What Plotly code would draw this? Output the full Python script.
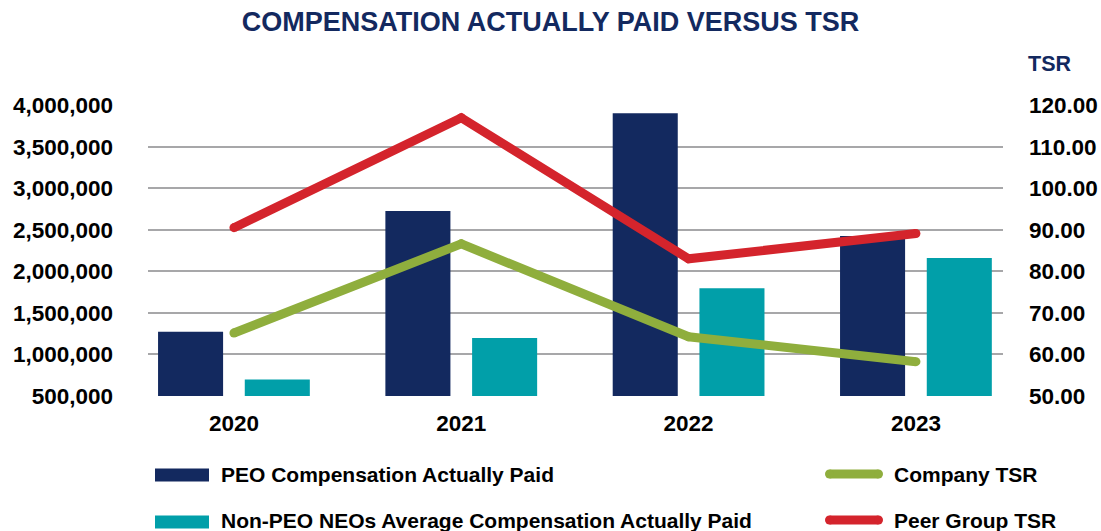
import plotly.graph_objects as go

years = ["2020", "2021", "2022", "2023"]
peo_cap = [1270000, 2725000, 3905000, 2425000]
non_peo_cap = [695000, 1195000, 1795000, 2160000]
company_tsr = [65.1, 86.6, 64.2, 58.2]
peer_tsr = [90.5, 117.0, 83.0, 89.1]

series_names = ["PEO Compensation Actually Paid",
                "Non-PEO NEOs Average Compensation Actually Paid",
                "Company TSR", "Peer Group TSR"]
title_text = "COMPENSATION ACTUALLY PAID VERSUS TSR"

NAVY = "#13295f"
TEAL = "#019fa9"
GREEN = "#8fae3d"
RED = "#d4242c"
GRID = "#a7a7a9"
FONT = "Liberation Sans, Arial, sans-serif"

W, H = 1101, 531
L, R, T, B = 148, 1003, 105, 396


def px(x):
    return (x - L) / (R - L)


def py(y):
    return (B - y) / (B - T)


fig = go.Figure()
fig.add_trace(go.Bar(x=years, y=peo_cap, name=series_names[0],
                     marker=dict(color=NAVY, line=dict(width=0)), showlegend=False))
fig.add_trace(go.Bar(x=years, y=non_peo_cap, name=series_names[1],
                     marker=dict(color=TEAL, line=dict(width=0)), showlegend=False))
fig.add_trace(go.Scatter(x=years, y=company_tsr, name=series_names[2], yaxis="y2",
                         mode="lines+markers", line=dict(color=GREEN, width=9),
                         marker=dict(color=GREEN, size=9, line=dict(width=0)),
                         showlegend=False))
fig.add_trace(go.Scatter(x=years, y=peer_tsr, name=series_names[3], yaxis="y2",
                         mode="lines+markers", line=dict(color=RED, width=9),
                         marker=dict(color=RED, size=9, line=dict(width=0)),
                         showlegend=False))

EPS1 = 4000
EPS2 = EPS1 / 3500000 * 70

fig.update_layout(
    width=W, height=H,
    margin=dict(l=L, r=W - R, t=T, b=H - B, pad=0, autoexpand=False),
    plot_bgcolor="white", paper_bgcolor="white",
    barmode="group", bargap=0.237, bargroupgap=0.25,
    font=dict(family=FONT, color="black"),
    title=dict(text=title_text, x=0.5, xref="container", xanchor="center",
               y=1 - 22 / H, yref="container", yanchor="middle", automargin=False,
               font=dict(family=FONT, size=27, color=NAVY, weight="bold")),
    xaxis=dict(type="category", range=[-0.378, 3.383], showgrid=False,
               showline=False, zeroline=False, ticks="", ticklabelstandoff=11,
               automargin=False,
               tickfont=dict(size=22.5, color="black", weight="bold")),
    yaxis=dict(range=[500000 - EPS1, 4000000 + EPS1], dtick=500000, tick0=500000,
               tickformat=",d", showgrid=True, gridcolor=GRID, gridwidth=2,
               zeroline=False, showline=False, ticks="", ticklabelstandoff=34,
               automargin=False,
               tickfont=dict(size=22.5, color="black", weight="bold")),
    yaxis2=dict(range=[50 - EPS2, 120 + EPS2], dtick=10, tick0=50, tickformat=".2f",
                overlaying="y", side="right", showgrid=False, zeroline=False,
                showline=False, ticks="", ticklabelstandoff=25, automargin=False,
                tickfont=dict(size=22.5, color="black", weight="bold")),
)

# TSR axis label
fig.add_annotation(text="TSR", xref="paper", yref="paper", x=px(1026), y=py(63.5),
                   xanchor="left", yanchor="middle", showarrow=False,
                   font=dict(family=FONT, size=21.5, color=NAVY, weight="bold"))

# custom legend
legend_items = [
    (series_names[0], NAVY, "bar", 155, 475, 474),
    (series_names[1], TEAL, "bar", 155, 522, 520),
    (series_names[2], GREEN, "line", 825, 474, 474),
    (series_names[3], RED, "line", 825, 520, 520),
]
for name, col, kind, x0, yc, ty in legend_items:
    if kind == "bar":
        fig.add_shape(type="rect", xref="paper", yref="paper",
                      x0=px(x0), x1=px(x0 + 54), y0=py(yc - 6.5), y1=py(yc + 6.5),
                      fillcolor=col, line=dict(width=0))
        tx = x0 + 64
    else:
        fig.add_shape(type="line", xref="paper", yref="paper",
                      x0=px(x0 + 4.5), x1=px(x0 + 53.5), y0=py(yc), y1=py(yc),
                      line=dict(color=col, width=9))
        for cx in (x0 + 4.5, x0 + 53.5):
            fig.add_shape(type="circle", xref="paper", yref="paper",
                          x0=px(cx - 4.5), x1=px(cx + 4.5),
                          y0=py(yc + 4.5), y1=py(yc - 4.5),
                          fillcolor=col, line=dict(width=0))
        tx = x0 + 67
    fig.add_annotation(text=name, xref="paper", yref="paper", x=px(tx), y=py(ty),
                       xanchor="left", yanchor="middle", showarrow=False,
                       font=dict(family=FONT, size=21, color="black", weight="bold"))

fig.write_html("out.html", config={"displayModeBar": False},
               post_script="document.body.style.margin='0';document.body.style.overflow='hidden';")
